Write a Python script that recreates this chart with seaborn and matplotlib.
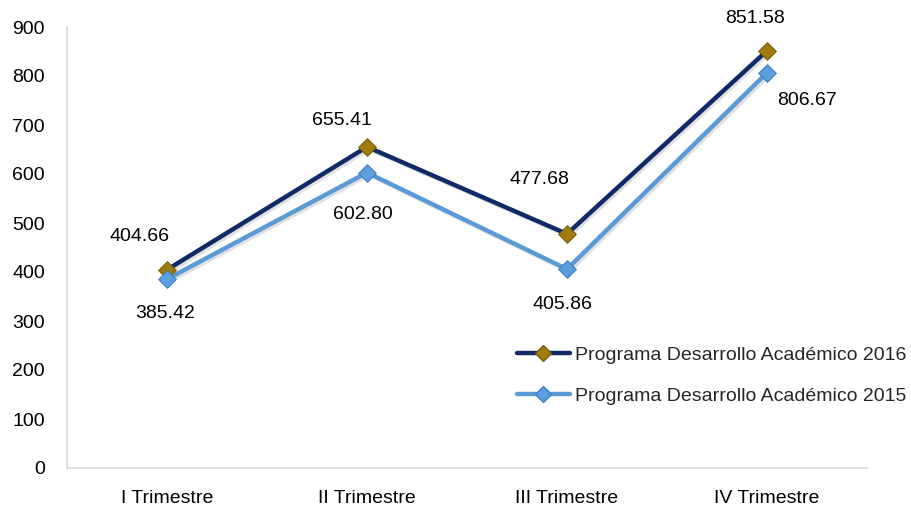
import matplotlib
matplotlib.use("Agg")
import matplotlib.pyplot as plt
import matplotlib.patheffects as pe
import seaborn as sns
import pandas as pd
from matplotlib.lines import Line2D

categories = ["I Trimestre", "II Trimestre", "III Trimestre", "IV Trimestre"]
series_2016 = [404.66, 655.41, 477.68, 851.58]
series_2015 = [385.42, 602.80, 405.86, 806.67]
name_2016 = "Programa Desarrollo Académico 2016"
name_2015 = "Programa Desarrollo Académico 2015"
yticks = [0, 100, 200, 300, 400, 500, 600, 700, 800, 900]

df = pd.DataFrame({
    "cat": categories * 2,
    "x": list(range(len(categories))) * 2,
    "val": series_2016 + series_2015,
    "serie": [name_2016] * 4 + [name_2015] * 4,
})

sns.set_theme(style="white")
plt.rcParams["font.family"] = ["Liberation Sans", "DejaVu Sans"]

fig = plt.figure(figsize=(9.11, 5.08), dpi=100)
ax = fig.add_axes([67 / 911, 40 / 508, 800 / 911, 441 / 508])

line_colors = {name_2016: "#0f2a66", name_2015: "#5b9bd5"}
marker_face = {name_2016: "#a07c0c", name_2015: "#5b9fe0"}
marker_edge = {name_2016: "#7a5e08", name_2015: "#3d7fbf"}

shadow = [pe.SimpleLineShadow(offset=(1.5, -1.5), alpha=0.12, shadow_color="black"), pe.Normal()]

sns.lineplot(data=df, x="x", y="val", hue="serie", palette=line_colors,
             linewidth=3.2, ax=ax, legend=False, sort=False)
for ln in ax.lines:
    ln.set_path_effects(shadow)

for name in [name_2016, name_2015]:
    sub = df[df["serie"] == name]
    sns.scatterplot(data=sub, x="x", y="val", marker="D", s=80,
                    color=marker_face[name], edgecolor=marker_edge[name],
                    linewidth=0.8, ax=ax, legend=False, zorder=5)

FS = 14
ax.set_xlim(-0.5, 3.5)
ax.set_ylim(0, 900)
ax.set_yticks(yticks)
ax.set_yticklabels([str(v) for v in yticks])
ax.set_xticks(range(len(categories)))
ax.set_xticklabels(categories)
ax.set_xlabel("")
ax.set_ylabel("")
ax.tick_params(axis="both", labelsize=FS, colors="#000000", length=0)
ax.tick_params(axis="y", pad=16)
ax.tick_params(axis="x", pad=16)
for s in ["top", "right"]:
    ax.spines[s].set_visible(False)
for s in ["left", "bottom"]:
    ax.spines[s].set_color("#d9d9d9")
    ax.spines[s].set_linewidth(1.2)

off_2016 = [(-28, 33), (-25, 26), (-28, 54), (-12, 32)]
off_2015 = [(-2, -34), (-4, -42), (-5, -35), (40, -28)]
for i, (v, o) in enumerate(zip(series_2016, off_2016)):
    ax.annotate(f"{v:.2f}", (i, v), xytext=o, textcoords="offset pixels",
                ha="center", va="center", fontsize=FS, color="#000000")
for i, (v, o) in enumerate(zip(series_2015, off_2015)):
    ax.annotate(f"{v:.2f}", (i, v), xytext=o, textcoords="offset pixels",
                ha="center", va="center", fontsize=FS, color="#000000")

handles = [
    Line2D([], [], color=line_colors[name_2016], lw=3.2, marker="D", markersize=8.5,
           markerfacecolor=marker_face[name_2016], markeredgecolor=marker_edge[name_2016]),
    Line2D([], [], color=line_colors[name_2015], lw=3.2, marker="D", markersize=8.5,
           markerfacecolor=marker_face[name_2015], markeredgecolor=marker_edge[name_2015]),
]
fig.legend(handles, [name_2016, name_2015], loc="upper left",
           bbox_to_anchor=(517 / 911, 1 - 346 / 508), frameon=False,
           fontsize=FS, handlelength=2.7, handletextpad=0.3, labelspacing=1.2,
           borderaxespad=0, borderpad=0)

fig.savefig("out.png", dpi=100)
